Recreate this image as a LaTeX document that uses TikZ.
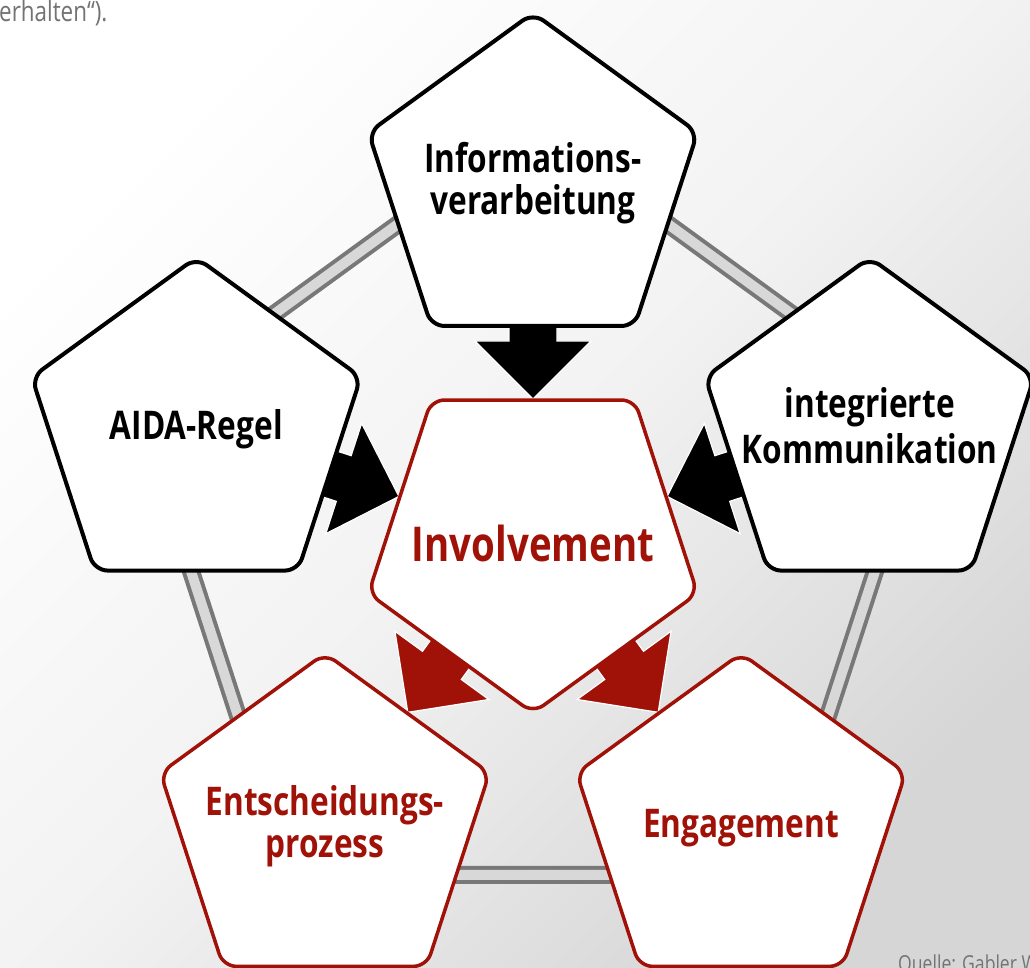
\documentclass[tikz,border=0pt]{standalone}
\usepackage{fontspec}
\usetikzlibrary{shapes.geometric,calc}
\newfontfamily\labfont[FakeStretch=0.8]{Open Sans}
\definecolor{dred}{RGB}{160,18,8}
\definecolor{ringline}{RGB}{120,120,120}
\definecolor{ringfill}{RGB}{216,216,216}
\definecolor{txtgray}{RGB}{115,115,115}
\pgfdeclarelayer{bglayer}
\pgfdeclarelayer{arrlayer}
\pgfsetlayers{bglayer,arrlayer,main}
\newcommand\blockarrow[3]{%
  \fill[#3, draw=white, line width=1.2pt, line join=miter]
    ($(#2.center)!141pt!(#1.center)$)
    -- ($($(#2.center)!199pt!(#1.center)$)!58pt!90:(#2.center)$)
    -- ($($(#2.center)!199pt!(#1.center)$)!24pt!90:(#2.center)$)
    -- ($($(#2.center)!270pt!(#1.center)$)!24pt!90:(#2.center)$)
    -- ($($(#2.center)!270pt!(#1.center)$)!24pt!-90:(#2.center)$)
    -- ($($(#2.center)!199pt!(#1.center)$)!24pt!-90:(#2.center)$)
    -- ($($(#2.center)!199pt!(#1.center)$)!58pt!-90:(#2.center)$)
    -- cycle;}
\tikzset{
  pent/.style={regular polygon, regular polygon sides=5, minimum size=346pt,
    inner sep=0pt, outer sep=0pt, fill=white, rounded corners=13pt,
    line width=4pt, draw=black},
  redpent/.style={pent, draw=dred, line width=3.5pt},
  labtxt/.style={align=center, inner sep=0pt, text=black,
    font=\labfont\bfseries\fontsize{39.5}{42}\selectfont},
  redtxt/.style={labtxt, text=dred},
  graytext/.style={text=txtgray, inner sep=0pt, font=\labfont\fontsize{28}{30}\selectfont},
  ring/.style={draw=ringline, double=ringfill, double distance=10pt, line width=4pt, line join=miter}
}
\begin{document}
\begin{tikzpicture}[x=1pt,y=1pt]
\useasboundingbox (0,0) rectangle (1030,967);
\node[redpent, regular polygon rotate=180,
  label={[redtxt, font=\labfont\bfseries\fontsize{48}{52}\selectfont, yshift=-4pt]center:Involvement}] (inv) at (533,427) {};
\node[pent, label={[labtxt, yshift=3pt]center:{Informations-\\verarbeitung}}] (info) at ($(inv.center)+(90:354)$) {};
\node[pent, label={[labtxt, yshift=1pt]center:AIDA-Regel}] (aida) at ($(inv.center)+(162:354)$) {};
\node[pent, label={[labtxt, yshift=5pt, font=\labfont\bfseries\fontsize{39.5}{46}\selectfont]center:{integrierte\\Kommunikation}}] (ikom) at ($(inv.center)+(18:354)$) {};
\node[redpent, label={[redtxt, yshift=0pt]center:{Entscheidungs-\\prozess}}] (ent) at ($(inv.center)+(234:354)$) {};
\node[redpent, label={[redtxt, yshift=-2pt]center:Engagement}] (eng) at ($(inv.center)+(306:354)$) {};
\node[graytext, anchor=base west] (src) at (-1,945) {erhalten“).};
\node[graytext, anchor=base west, font=\labfont\fontsize{22}{24}\selectfont] (quelle) at (898,-4) {Quelle: Gabler W};
\begin{pgfonlayer}{bglayer}
  \shade[top color=white, bottom color=black!16, middle color=black!5, shading angle=45] (0,0) rectangle (1030,967);
  \draw[ring] ($(inv.center)+(90:414)$) -- ($(inv.center)+(162:414)$) -- ($(inv.center)+(234:414)$)
     -- ($(inv.center)+(306:414)$) -- ($(inv.center)+(18:414)$) -- cycle;
\end{pgfonlayer}
\begin{pgfonlayer}{arrlayer}
  \blockarrow{info}{inv}{black}
  \blockarrow{aida}{inv}{black}
  \blockarrow{ikom}{inv}{black}
  \blockarrow{inv}{ent}{dred}
  \blockarrow{inv}{eng}{dred}
\end{pgfonlayer}
\end{tikzpicture}
\end{document}
